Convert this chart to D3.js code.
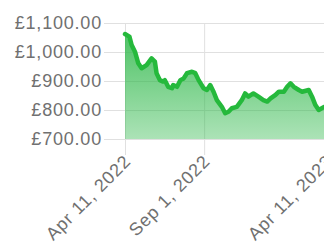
<!DOCTYPE html>
<html>
<head>
<meta charset="utf-8">
<script src="https://cdn.jsdelivr.net/npm/d3@7"></script>
<style>
  body { margin: 0; background: #fff; }
  svg { display: block; }
</style>
</head>
<body>
<svg id="chart"></svg>
<script>
// price series
const dates = [
  "2022-04-11","2022-04-19","2022-04-23","2022-04-29","2022-05-05","2022-05-11",
  "2022-05-20","2022-05-29","2022-06-04","2022-06-07","2022-06-13","2022-06-19",
  "2022-06-22","2022-06-28","2022-07-05","2022-07-07","2022-07-14","2022-07-20",
  "2022-07-26","2022-08-01","2022-08-10","2022-08-16","2022-08-22","2022-08-31",
  "2022-09-06","2022-09-12","2022-09-18","2022-09-24","2022-10-03","2022-10-09",
  "2022-10-15","2022-10-21","2022-10-30","2022-11-08","2022-11-14","2022-11-20",
  "2022-11-29","2022-12-08","2022-12-17","2022-12-24","2022-12-30","2023-01-08",
  "2023-01-14","2023-01-23","2023-01-29","2023-02-04","2023-02-10","2023-02-19",
  "2023-02-25","2023-03-09","2023-03-15","2023-03-21","2023-03-27","2023-04-05",
  "2023-04-10"
];
const prices = [
  1062, 1053, 1024, 1001, 961, 944,
  955, 978, 967, 927, 903, 898,
  903, 880, 875, 886, 880, 903,
  909, 927, 932, 927, 903, 875,
  869, 886, 863, 834, 811, 789,
  794, 806, 811, 834, 857, 846,
  857, 846, 834, 829, 840, 852,
  863, 863, 880, 892, 880, 869,
  863, 869, 846, 817, 800, 810,
  808
];
const yTicks = [700, 800, 900, 1000, 1100];
const xTicks = ["2022-04-11", "2022-09-01", "2023-04-11"];

const svg_width = 324, svg_height = 242;
const margin = {top: 23, right: -3, bottom: 103, left: 125},
      width = svg_width - margin.left - margin.right,
      height = svg_height - margin.top - margin.bottom;

const parse = d3.timeParse("%Y-%m-%d");
const values = dates.map((d, i) => ({date: parse(d), price: prices[i]}));

const svg = d3.select("#chart")
  .attr("width", svg_width)
  .attr("height", svg_height);

const defs = svg.append("defs");
const grad = defs.append("linearGradient")
  .attr("id", "fillGrad")
  .attr("x1", 0).attr("y1", 0).attr("x2", 0).attr("y2", 1);
grad.append("stop").attr("offset", "0%").attr("stop-color", "#2fb84a").attr("stop-opacity", 0.85);
grad.append("stop").attr("offset", "100%").attr("stop-color", "#2fb84a").attr("stop-opacity", 0.4);

const chart = svg.append("g")
  .attr("transform", `translate(${margin.left},${margin.top})`);

const xScale = d3.scaleTime()
  .domain([parse("2022-04-11"), parse("2023-04-11")])
  .range([0, width]);
const yScale = d3.scaleLinear()
  .domain([700, 1100])
  .range([height, 0]);

const fmtMoney = v => "£" + d3.format(",.2f")(v);
const fmtDate = d3.timeFormat("%b %-d, %Y");

const labelStyle = sel => sel
  .style("font-family", "'Liberation Sans', Arial, sans-serif")
  .style("font-size", "18px")
  .style("letter-spacing", "0.8px")
  .style("fill", "#707070");

// horizontal grid + left ticks
const yAxis = chart.append("g")
  .call(d3.axisLeft(yScale)
    .tickValues(yTicks)
    .tickSize(21)
    .tickPadding(2)
    .tickFormat(fmtMoney));
yAxis.select(".domain").remove();
yAxis.selectAll(".tick line")
  .attr("x1", -21)
  .attr("x2", width)
  .style("stroke", "#e0e0e0");
yAxis.selectAll(".tick text")
  .attr("x", -23)
  .call(labelStyle);

// vertical grid + bottom ticks
const xAxis = chart.append("g")
  .attr("transform", `translate(0,${height})`)
  .call(d3.axisBottom(xScale)
    .tickValues(xTicks.map(parse))
    .tickSize(16)
    .tickFormat(fmtDate));
xAxis.select(".domain").remove();
xAxis.selectAll(".tick line")
  .attr("y1", -height)
  .attr("y2", 16)
  .style("stroke", "#e0e0e0");
xAxis.selectAll(".tick text")
  .attr("y", 0)
  .attr("dy", "0.35em")
  .attr("transform", "translate(2,19) rotate(-45)")
  .style("text-anchor", "end")
  .call(labelStyle);

// area under the line
const area = d3.area()
  .x(d => xScale(d.date))
  .y0(height)
  .y1(d => yScale(d.price));
chart.append("path")
  .datum(values)
  .attr("d", area)
  .style("fill", "url(#fillGrad)");

// price line
const line = d3.line()
  .x(d => xScale(d.date))
  .y(d => yScale(d.price));
chart.append("path")
  .datum(values)
  .attr("d", line)
  .style("fill", "none")
  .style("stroke", "#25b93c")
  .style("stroke-width", 4.5)
  .style("stroke-linejoin", "round")
  .style("stroke-linecap", "round");
</script>
</body>
</html>
